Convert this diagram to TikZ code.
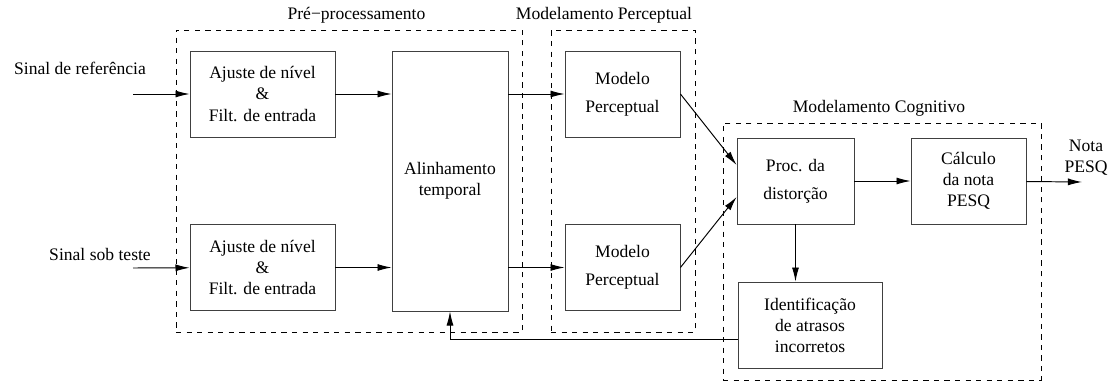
\documentclass[tikz,border=0pt]{standalone}
\usepackage{fontspec}
\setmainfont{Liberation Serif}
\usepackage{tikz}
\usetikzlibrary{arrows.meta}

\begin{document}
\begin{tikzpicture}[x=0.2mm,y=-0.2mm,
font=\fontsize{10}{12}\selectfont,
bloco/.style={draw=black!75,line width=0.5pt,align=center,inner sep=2pt,minimum height=1.72cm},
grupo/.style={draw,dashed,line width=0.5pt,inner sep=0pt},
seta/.style={-{Latex[length=8pt,width=4pt]},line width=0.55pt}
]
\useasboundingbox (0,0) rectangle (1111,383);
\node[grupo,minimum width=6.92cm,minimum height=6.04cm,label={[xshift=1.5mm]above:Pré−processamento}] (pre) at (349,181) {};
\node[grupo,minimum width=2.88cm,minimum height=6.04cm,label={[xshift=-3.8mm]above:Modelamento Perceptual}] (perc) at (623,181) {};
\node[grupo,minimum width=6.36cm,minimum height=5.14cm,label={[xshift=-0.6mm]above:Modelamento Cognitivo}] (cog) at (882,251.5) {};
\node[bloco,minimum width=2.9cm] (aj1) at (262.5,94) {Ajuste de nível\\\&\\Filt. de entrada};
\node[bloco,minimum width=2.9cm] (aj2) at (262.5,267.5) {Ajuste de nível\\\&\\Filt. de entrada};
\node[bloco,minimum width=2.32cm,minimum height=5.2cm] (alin) at (450,181) {Alinhamento\\temporal};
\node[bloco,minimum width=2.3cm] (mp1) at (622.5,94) {Modelo\\[4pt]Perceptual};
\node[bloco,minimum width=2.3cm] (mp2) at (622.5,267.5) {Modelo\\[4pt]Perceptual};
\node[bloco,minimum width=2.34cm] (proc) at (795.5,181) {Proc. da\\[4pt]distorção};
\node[bloco,minimum width=2.3cm] (calc) at (968.5,181) {Cálculo\\da nota\\PESQ};
\node[bloco,minimum width=2.88cm] (ident) at (810,325) {Identificação\\de atrasos\\incorretos};
\node (sref) at (80,68) {Sinal de referência};
\node (steste) at (100,254) {Sinal sob teste};
\node[align=center] (nota) at (1086,158) {Nota\\PESQ};
\coordinate (ent1) at (133,94);
\coordinate (ent2) at (133,268);
\coordinate (saida) at (1082,182);
\draw[seta] (ent1) -- (aj1);
\draw[seta] (ent2) -- (aj2);
\draw[seta] (aj1) -- (aj1 -| alin.west);
\draw[seta] (aj2) -- (aj2 -| alin.west);
\draw[seta] (alin.east |- mp1) -- (mp1);
\draw[seta] (alin.east |- mp2) -- (mp2);
\draw[seta] (mp1.east) -- ([yshift=3.2mm]proc.west);
\draw[seta] (mp2.east) -- ([yshift=-3.2mm]proc.west);
\draw[seta] (proc) -- (calc);
\draw[seta] (calc) -- (saida);
\draw[seta] (proc.south) -- (proc.south |- ident.north);
\draw[seta] ([yshift=-2.8mm]ident.west) -| (alin.south);
\end{tikzpicture}
\end{document}
